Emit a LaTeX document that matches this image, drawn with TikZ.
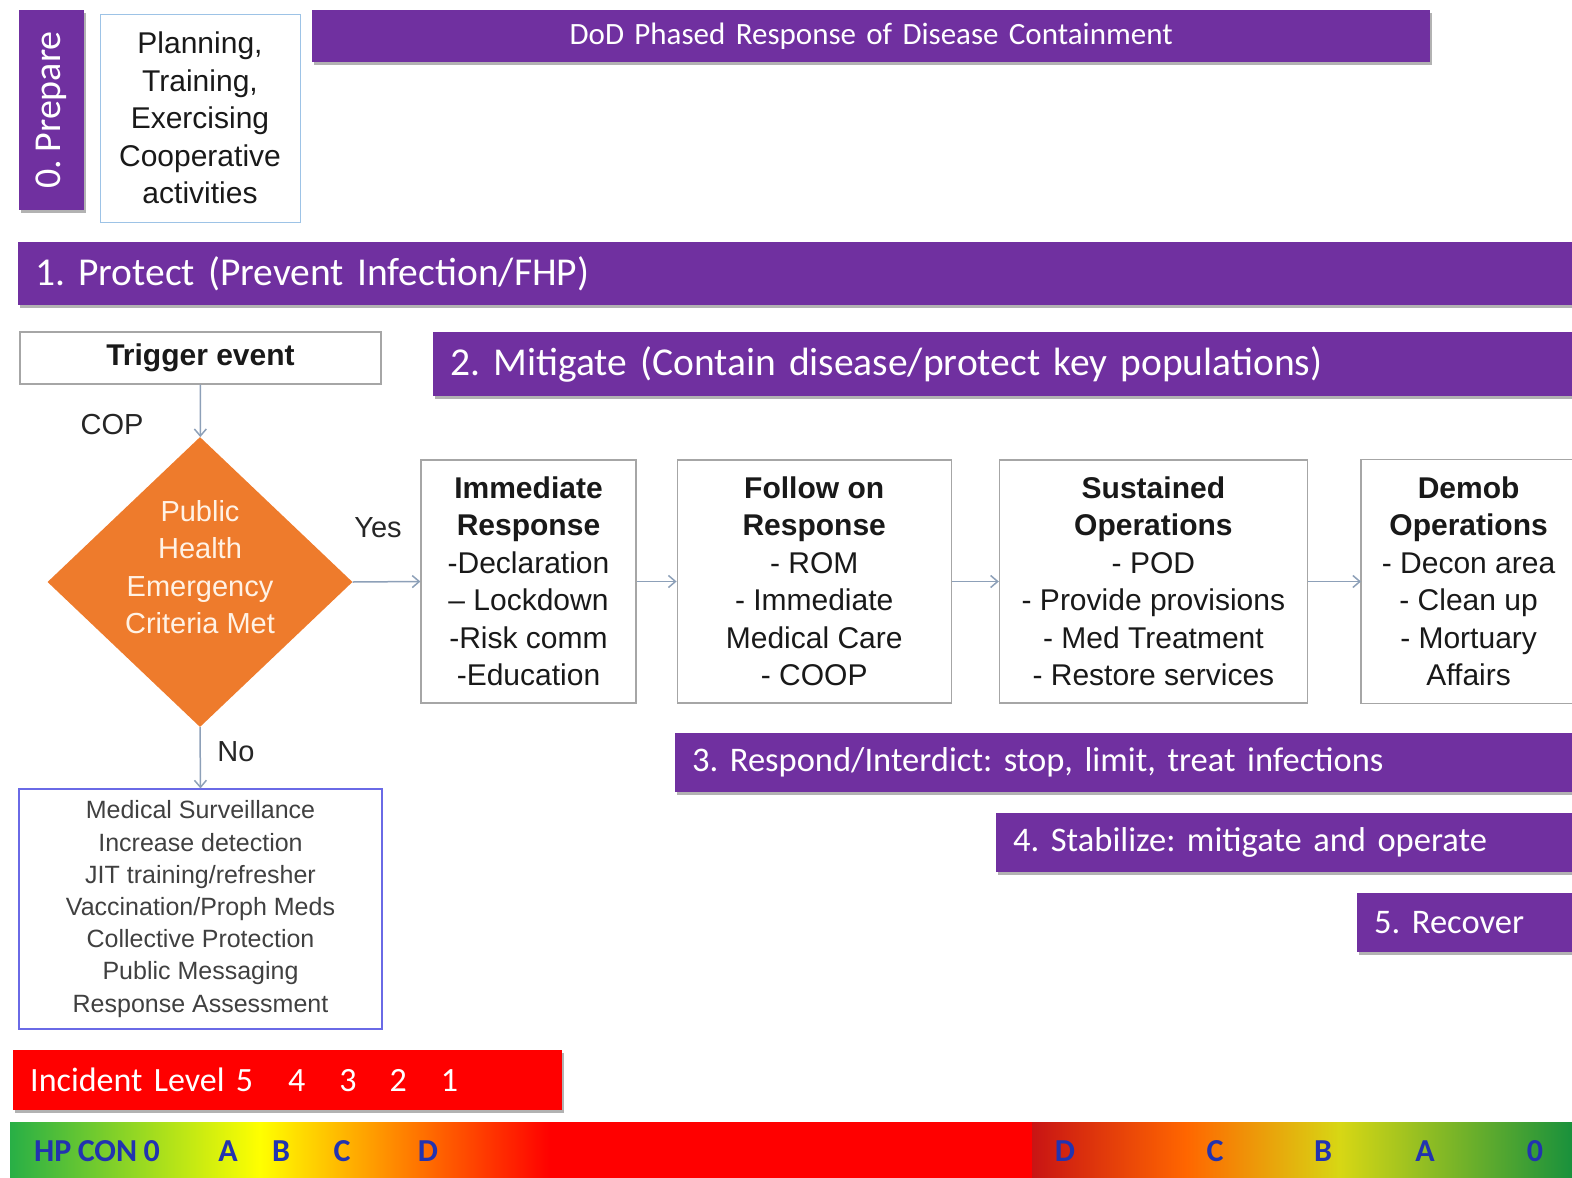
\documentclass[tikz,border=0pt]{standalone}
\usepackage{fontspec}
\setmainfont{Liberation Sans}
\newfontfamily\calfont{Carlito}
\usetikzlibrary{positioning,shapes.geometric,arrows.meta,shadows}

\definecolor{phasepurple}{HTML}{7030A0}
\definecolor{critorange}{HTML}{EE7B2C}
\definecolor{linkgray}{HTML}{8DA0B8}
\definecolor{boxgray}{HTML}{A6A6A6}
\definecolor{prepblue}{HTML}{9DC3E6}
\definecolor{survblue}{HTML}{6A6AE6}
\definecolor{hpblue}{HTML}{2233B0}
\definecolor{hpgreenl}{RGB}{40,175,70}
\definecolor{hpgreenr}{RGB}{25,145,60}
\definecolor{hpdarkred}{RGB}{200,20,20}
\definecolor{hpyellow}{RGB}{215,215,20}

% Carlito at a given size, with tight word spaces
\newcommand\barfont[1]{\calfont\fontsize{#1}{#1}\selectfont
  \frenchspacing\spaceskip=0.2em plus 0.05em\relax}

\tikzset{
  phase/.style={fill=phasepurple, text=white, anchor=north west, align=left,
    inner xsep=17pt, inner ysep=0pt, font=\barfont{34.5},
    drop shadow={shadow xshift=2pt, shadow yshift=-3pt, opacity=0.3, fill=black}},
  stepbox/.style={draw=boxgray, line width=1.2pt, fill=white, align=center,
    inner sep=0pt, minimum height=243pt, text=black!90,
    font=\fontsize{30}{37.5}\selectfont},
  flow/.style={draw=linkgray, line width=1.5pt,
    -{Straight Barb[length=7pt,width=12pt]}},
  tag/.style={font=\fontsize{29}{34}\selectfont, text=black!85},
  hplabel/.style={font=\barfont{32}\bfseries, text=hpblue},
}

\begin{document}
\begin{tikzpicture}[x=1pt,y=-1pt]
    \useasboundingbox (0,0) rectangle (1572,1178);

    % Prepare
    \node[phase, anchor=center, rotate=90, align=center, inner xsep=0pt,
          minimum width=200pt, minimum height=65pt, font=\barfont{38}] (prep)
        at (51,110) {0. Prepare};
    \node[draw=prepblue, line width=1pt, align=center, inner sep=0pt,
          minimum width=200pt, minimum height=208pt,
          font=\fontsize{30}{37.5}\selectfont, text=black!90] (plan) at (200,118)
        {Planning,\\Training,\\Exercising\\Cooperative\\activities};
    \node[phase, align=center, text width=1084pt, minimum height=52pt,
          font=\barfont{31}] (title) at (312,10)
        {DoD Phased Response of Disease Containment};

    % Phase bars
    \node[phase, text width=1520pt, minimum height=63pt,
          font=\barfont{39.5}] (protect) at (18,242)
        {1. Protect (Prevent Infection/FHP)};
    \node[phase, text width=1105pt, minimum height=64pt,
          font=\barfont{39.5}] (mitigate) at (433,332)
        {2. Mitigate (Contain disease/protect key populations)};
    \node[phase, text width=863pt, minimum height=59pt] (respond) at (675,733)
        {3. Respond/Interdict: stop, limit, treat infections};
    \node[phase, text width=542pt, minimum height=59pt] (stabilize) at (996,813)
        {4. Stabilize: mitigate and operate};
    \node[phase, text width=181pt, minimum height=59pt] (recover) at (1357,893)
        {5. Recover};

    % Trigger and criteria
    \node[draw=boxgray, line width=1.2pt, minimum width=361pt, minimum height=52pt,
          font=\bfseries\fontsize{30}{36}\selectfont, text=black!90] (trigger)
        at (200.5,358) {Trigger event};
    \node[diamond, fill=critorange, inner sep=0pt, minimum width=305pt,
          minimum height=290pt,
          label={[align=center, text=white!90!orange, yshift=15pt,
                  font=\fontsize{29}{37.5}\selectfont]center:%
                  Public\\Health\\Emergency\\Criteria Met}] (crit)
        at (200,582) {};
    \node[tag] (cop) at (112,425) {COP};
    \node[tag] (yes) at (378,528) {Yes};
    \node[tag] (no) at (236,752) {No};

    % Response chain
    \node[stepbox, minimum width=215pt] (immed) at (528.5,581.5)
        {\textbf{Immediate}\\\textbf{Response}\\-Declaration\\-- Lockdown\\-Risk comm\\-Education};
    \node[stepbox, minimum width=274pt, right=40pt of immed] (follow)
        {\textbf{Follow on}\\\textbf{Response}\\- ROM\\- Immediate\\Medical Care\\- COOP};
    \node[stepbox, minimum width=308pt, right=47pt of follow] (sustain)
        {\textbf{Sustained}\\\textbf{Operations}\\- POD\\- Provide provisions\\- Med Treatment\\- Restore services};
    \node[stepbox, draw=none, minimum width=214pt, right=53pt of sustain] (demob)
        {\textbf{Demob}\\\textbf{Operations}\\- Decon area\\- Clean up\\- Mortuary\\Affairs};
    \draw[boxgray, line width=1.2pt] (demob.north east) -- (demob.north west)
        -- (demob.south west) -- (demob.south east);

    % Surveillance
    \node[draw=survblue, line width=1.2pt, align=center, inner sep=0pt,
          minimum width=363pt, minimum height=240pt, text=black!75,
          font=\fontsize{25}{32.2}\selectfont] (surv) at (200.5,909)
        {Medical Surveillance\\Increase detection\\JIT training/refresher\\
         Vaccination/Proph Meds\\Collective Protection\\Public Messaging\\
         Response Assessment};

    % Connectors
    \draw[flow] (trigger) -- (crit);
    \draw[flow] (crit.east) -- (immed.west);
    \draw[flow] (crit.south) -- (surv.north);
    \draw[flow] (immed) -- (follow);
    \draw[flow] (follow) -- (sustain);
    \draw[flow] (sustain) -- (demob);

    % Incident level
    \node[phase, fill=red, text width=515pt, minimum height=60pt,
          font=\barfont{34}] (incident) at (13,1050)
        {Incident Level 5\hspace{35pt}4\hspace{34pt}3\hspace{33pt}2\hspace{34pt}1};

    % HPCON scale
    \shade[left color=hpgreenl, right color=yellow] (10,1122) rectangle (260,1178);
    \shade[left color=yellow, right color=red] (260,1122) rectangle (550,1178);
    \fill[red] (550,1122) rectangle (1032,1178);
    \shade[left color=hpdarkred, right color=hpyellow,
           middle color=orange!80!red] (1032,1122) rectangle (1340,1178);
    \shade[left color=hpyellow, right color=hpgreenr] (1340,1122) rectangle (1572,1178);
    \node[hplabel] (hpcon) at (97,1151) {HP CON 0};
    \foreach \x/\t [count=\i] in {228/A,281/B,342/C,428/D}
        \node[hplabel] (lvl\i) at (\x,1151) {\t};
    \foreach \x/\t [count=\i] in {1065/D,1215/C,1323/B,1425/A,1535/0}
        \node[hplabel] (back\i) at (\x,1151) {\t};
\end{tikzpicture}
\end{document}
